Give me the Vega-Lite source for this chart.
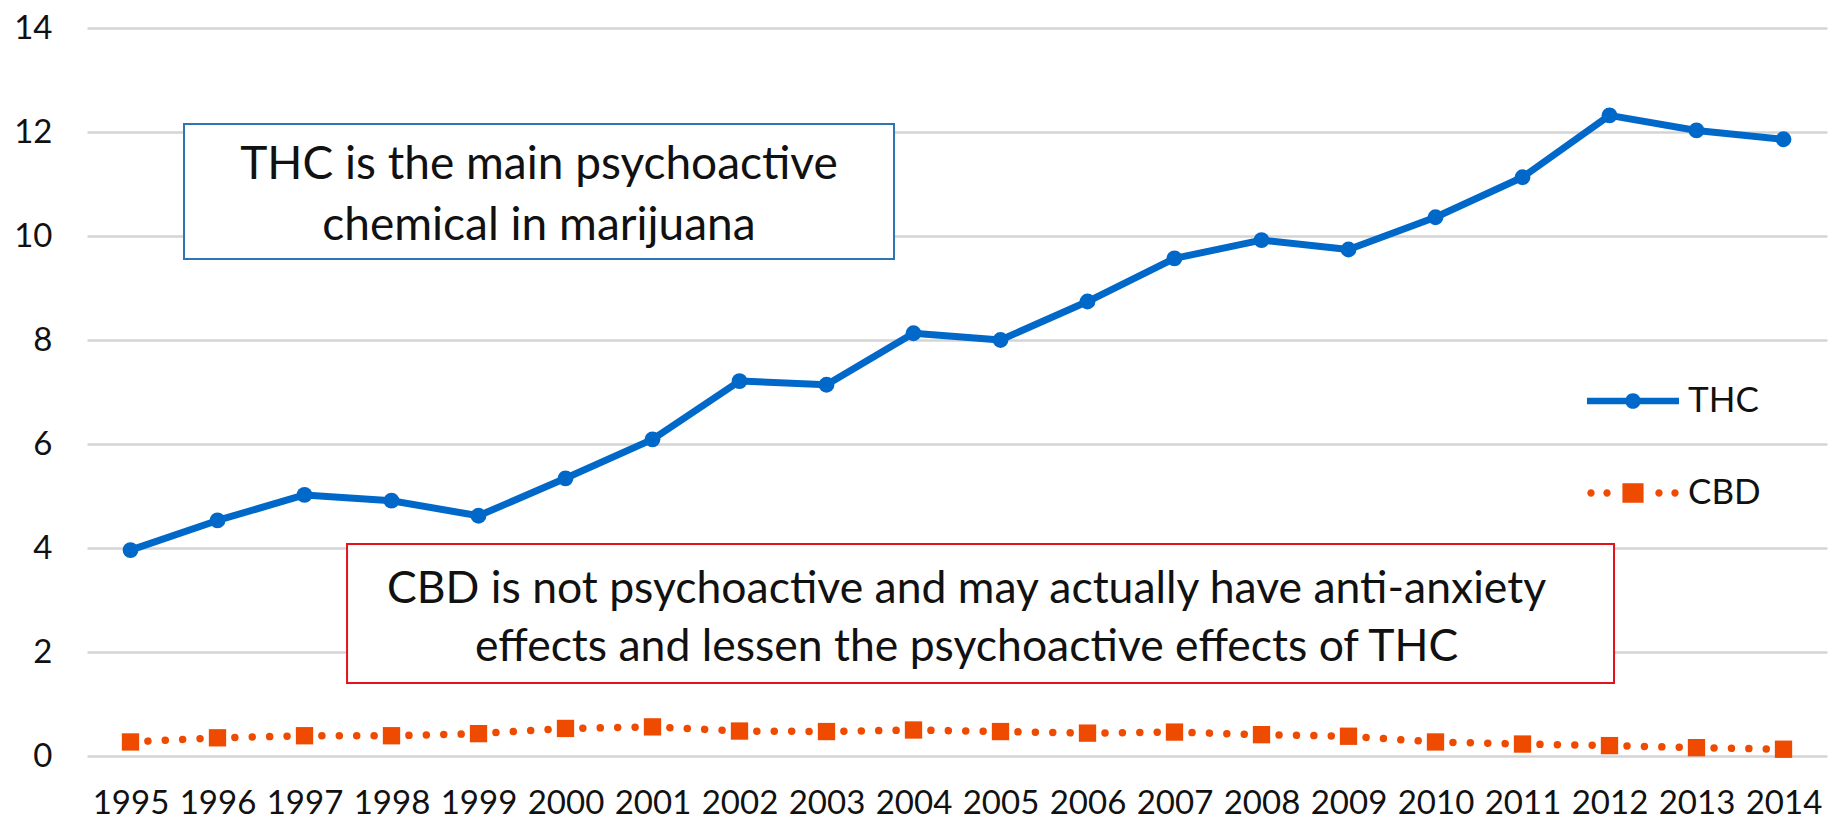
{
  "$schema": "https://vega.github.io/schema/vega-lite/v6.json",
  "width": 1740,
  "height": 728,
  "autosize": {"type": "none"},
  "padding": {"left": 87, "top": 28, "right": 12, "bottom": 63},
  "background": "white",
  "config": {
    "view": {"stroke": null},
    "font": "Lato",
    "axis": {"labelFont": "Lato", "labelColor": "#111111", "labelFontSize": 33}
  },
  "datasets": {
    "potency": [
      {"year": 1995, "series": "THC", "pct": 3.96},
      {"year": 1996, "series": "THC", "pct": 4.53},
      {"year": 1997, "series": "THC", "pct": 5.02},
      {"year": 1998, "series": "THC", "pct": 4.91},
      {"year": 1999, "series": "THC", "pct": 4.62},
      {"year": 2000, "series": "THC", "pct": 5.34},
      {"year": 2001, "series": "THC", "pct": 6.09},
      {"year": 2002, "series": "THC", "pct": 7.21},
      {"year": 2003, "series": "THC", "pct": 7.14},
      {"year": 2004, "series": "THC", "pct": 8.13},
      {"year": 2005, "series": "THC", "pct": 8.0},
      {"year": 2006, "series": "THC", "pct": 8.74},
      {"year": 2007, "series": "THC", "pct": 9.57},
      {"year": 2008, "series": "THC", "pct": 9.92},
      {"year": 2009, "series": "THC", "pct": 9.74},
      {"year": 2010, "series": "THC", "pct": 10.36},
      {"year": 2011, "series": "THC", "pct": 11.13},
      {"year": 2012, "series": "THC", "pct": 12.32},
      {"year": 2013, "series": "THC", "pct": 12.03},
      {"year": 2014, "series": "THC", "pct": 11.86},
      {"year": 1995, "series": "CBD", "pct": 0.27},
      {"year": 1996, "series": "CBD", "pct": 0.35},
      {"year": 1997, "series": "CBD", "pct": 0.39},
      {"year": 1998, "series": "CBD", "pct": 0.39},
      {"year": 1999, "series": "CBD", "pct": 0.43},
      {"year": 2000, "series": "CBD", "pct": 0.53},
      {"year": 2001, "series": "CBD", "pct": 0.56},
      {"year": 2002, "series": "CBD", "pct": 0.48},
      {"year": 2003, "series": "CBD", "pct": 0.47},
      {"year": 2004, "series": "CBD", "pct": 0.5},
      {"year": 2005, "series": "CBD", "pct": 0.47},
      {"year": 2006, "series": "CBD", "pct": 0.44},
      {"year": 2007, "series": "CBD", "pct": 0.46},
      {"year": 2008, "series": "CBD", "pct": 0.41},
      {"year": 2009, "series": "CBD", "pct": 0.38},
      {"year": 2010, "series": "CBD", "pct": 0.27},
      {"year": 2011, "series": "CBD", "pct": 0.23},
      {"year": 2012, "series": "CBD", "pct": 0.2},
      {"year": 2013, "series": "CBD", "pct": 0.16},
      {"year": 2014, "series": "CBD", "pct": 0.13}
    ],
    "notes": [
      {"note": "thc", "lines": ["THC is the main psychoactive", "chemical in marijuana"]},
      {"note": "cbd", "lines": ["CBD is not psychoactive and may actually have anti-anxiety", "effects and lessen the psychoactive effects of THC"]}
    ]
  },
  "data": {"name": "potency"},
  "layer": [
    {
      "mark": {"type": "rule", "strokeWidth": 0},
      "encoding": {
        "x": {
          "field": "year", "type": "quantitative",
          "scale": {"domain": [1994.5, 2014.5], "nice": false, "zero": false},
          "axis": {
            "title": null, "values": [1995, 1996, 1997, 1998, 1999, 2000, 2001, 2002, 2003, 2004, 2005, 2006, 2007, 2008, 2009, 2010, 2011, 2012, 2013, 2014],
            "format": "d", "grid": false, "domain": false, "ticks": false, "tickSize": 0,
            "labelPadding": 31, "labelFlush": false, "labelOverlap": false, "labelBound": false
          }
        },
        "y": {
          "field": "pct", "type": "quantitative",
          "scale": {"domain": [0, 14], "nice": false},
          "axis": {
            "title": null, "values": [0, 2, 4, 6, 8, 10, 12, 14],
            "grid": true, "gridColor": "#D4D4D4", "gridWidth": 2.5,
            "domain": false, "ticks": false, "tickSize": 0, "labelPadding": 35, "labelFlush": false
          }
        }
      }
    },
    {
      "data": {"name": "notes"},
      "transform": [{"filter": "datum.note === 'thc'"}],
      "mark": {"type": "rect", "fill": "white", "stroke": "#2E75B6", "strokeWidth": 2},
      "encoding": {
        "x": {"datum": 1995.615, "type": "quantitative"},
        "x2": {"datum": 2003.776},
        "y": {"datum": 12.154, "type": "quantitative"},
        "y2": {"datum": 9.558}
      }
    },
    {
      "data": {"name": "notes"},
      "transform": [{"filter": "datum.note === 'thc'"}],
      "mark": {"type": "text", "font": "Lato", "fontSize": 46, "color": "#111111", "align": "center", "baseline": "middle", "lineHeight": 61},
      "encoding": {
        "x": {"datum": 1999.695, "type": "quantitative"},
        "y": {"datum": 11.36, "type": "quantitative"},
        "text": {"field": "lines"}
      }
    },
    {
      "data": {"name": "notes"},
      "transform": [{"filter": "datum.note === 'cbd'"}],
      "mark": {"type": "rect", "fill": "white", "stroke": "#E3121B", "strokeWidth": 2},
      "encoding": {
        "x": {"datum": 1997.489, "type": "quantitative"},
        "x2": {"datum": 2012.052},
        "y": {"datum": 4.077, "type": "quantitative"},
        "y2": {"datum": 1.404}
      }
    },
    {
      "data": {"name": "notes"},
      "transform": [{"filter": "datum.note === 'cbd'"}],
      "mark": {"type": "text", "font": "Lato", "fontSize": 44.5, "color": "#111111", "align": "center", "baseline": "middle", "lineHeight": 58},
      "encoding": {
        "x": {"datum": 2004.61, "type": "quantitative"},
        "y": {"datum": 3.19, "type": "quantitative"},
        "text": {"field": "lines"}
      }
    },
    {
      "encoding": {
        "x": {"field": "year", "type": "quantitative"},
        "y": {"field": "pct", "type": "quantitative"},
        "color": {
          "field": "series", "type": "nominal",
          "scale": {"domain": ["THC", "CBD"], "range": ["#0068C9", "#EE4B00"]},
          "legend": {
            "title": null, "orient": "none", "legendX": 1500, "legendY": 327,
            "padding": 0, "rowPadding": 28, "symbolSize": 8464, "labelOffset": 9,
            "labelFont": "Lato", "labelFontSize": 35, "labelColor": "#111111",
            "encode": {
              "symbols": {
                "update": {
                  "shape": {"signal": "datum.value === 'THC' ? 'M-1,-0.07L-0.15,-0.07L-0.15,0.07L-1,0.07Z M0.15,-0.07L1,-0.07L1,0.07L0.15,0.07Z M0.17,0A0.17,0.17,0,1,1,-0.17,0A0.17,0.17,0,1,1,0.17,0Z' : 'M-0.833,0A0.08,0.08,0,1,1,-0.993,0A0.08,0.08,0,1,1,-0.833,0Z M-0.485,0A0.08,0.08,0,1,1,-0.645,0A0.08,0.08,0,1,1,-0.485,0Z M0.645,0A0.08,0.08,0,1,1,0.485,0A0.08,0.08,0,1,1,0.645,0Z M0.993,0A0.08,0.08,0,1,1,0.833,0A0.08,0.08,0,1,1,0.993,0Z M-0.23,-0.21L0.23,-0.21L0.23,0.21L-0.23,0.21Z'"},
                  "fill": {"signal": "datum.value === 'THC' ? '#0068C9' : '#EE4B00'"},
                  "stroke": {"value": "transparent"},
                  "strokeWidth": {"value": 0},
                  "strokeDash": {"value": []},
                  "size": {"value": 8464},
                  "opacity": {"value": 1}
                }
              }
            }
          }
        }
      },
      "layer": [
        {
          "transform": [{"filter": "datum.series === 'THC'"}],
          "mark": {"type": "line", "strokeWidth": 7, "strokeCap": "round", "strokeJoin": "round"}
        },
        {
          "transform": [{"filter": "datum.series === 'CBD'"}],
          "mark": {"type": "line", "strokeWidth": 7.5, "strokeCap": "round", "strokeDash": [0.01, 17.4]}
        },
        {
          "transform": [{"filter": "datum.series === 'THC'"}],
          "mark": {"type": "point", "shape": "circle", "filled": true, "size": 250, "opacity": 1}
        },
        {
          "transform": [{"filter": "datum.series === 'CBD'"}],
          "mark": {"type": "point", "shape": "square", "filled": true, "size": 300, "opacity": 1}
        }
      ]
    }
  ]
}
